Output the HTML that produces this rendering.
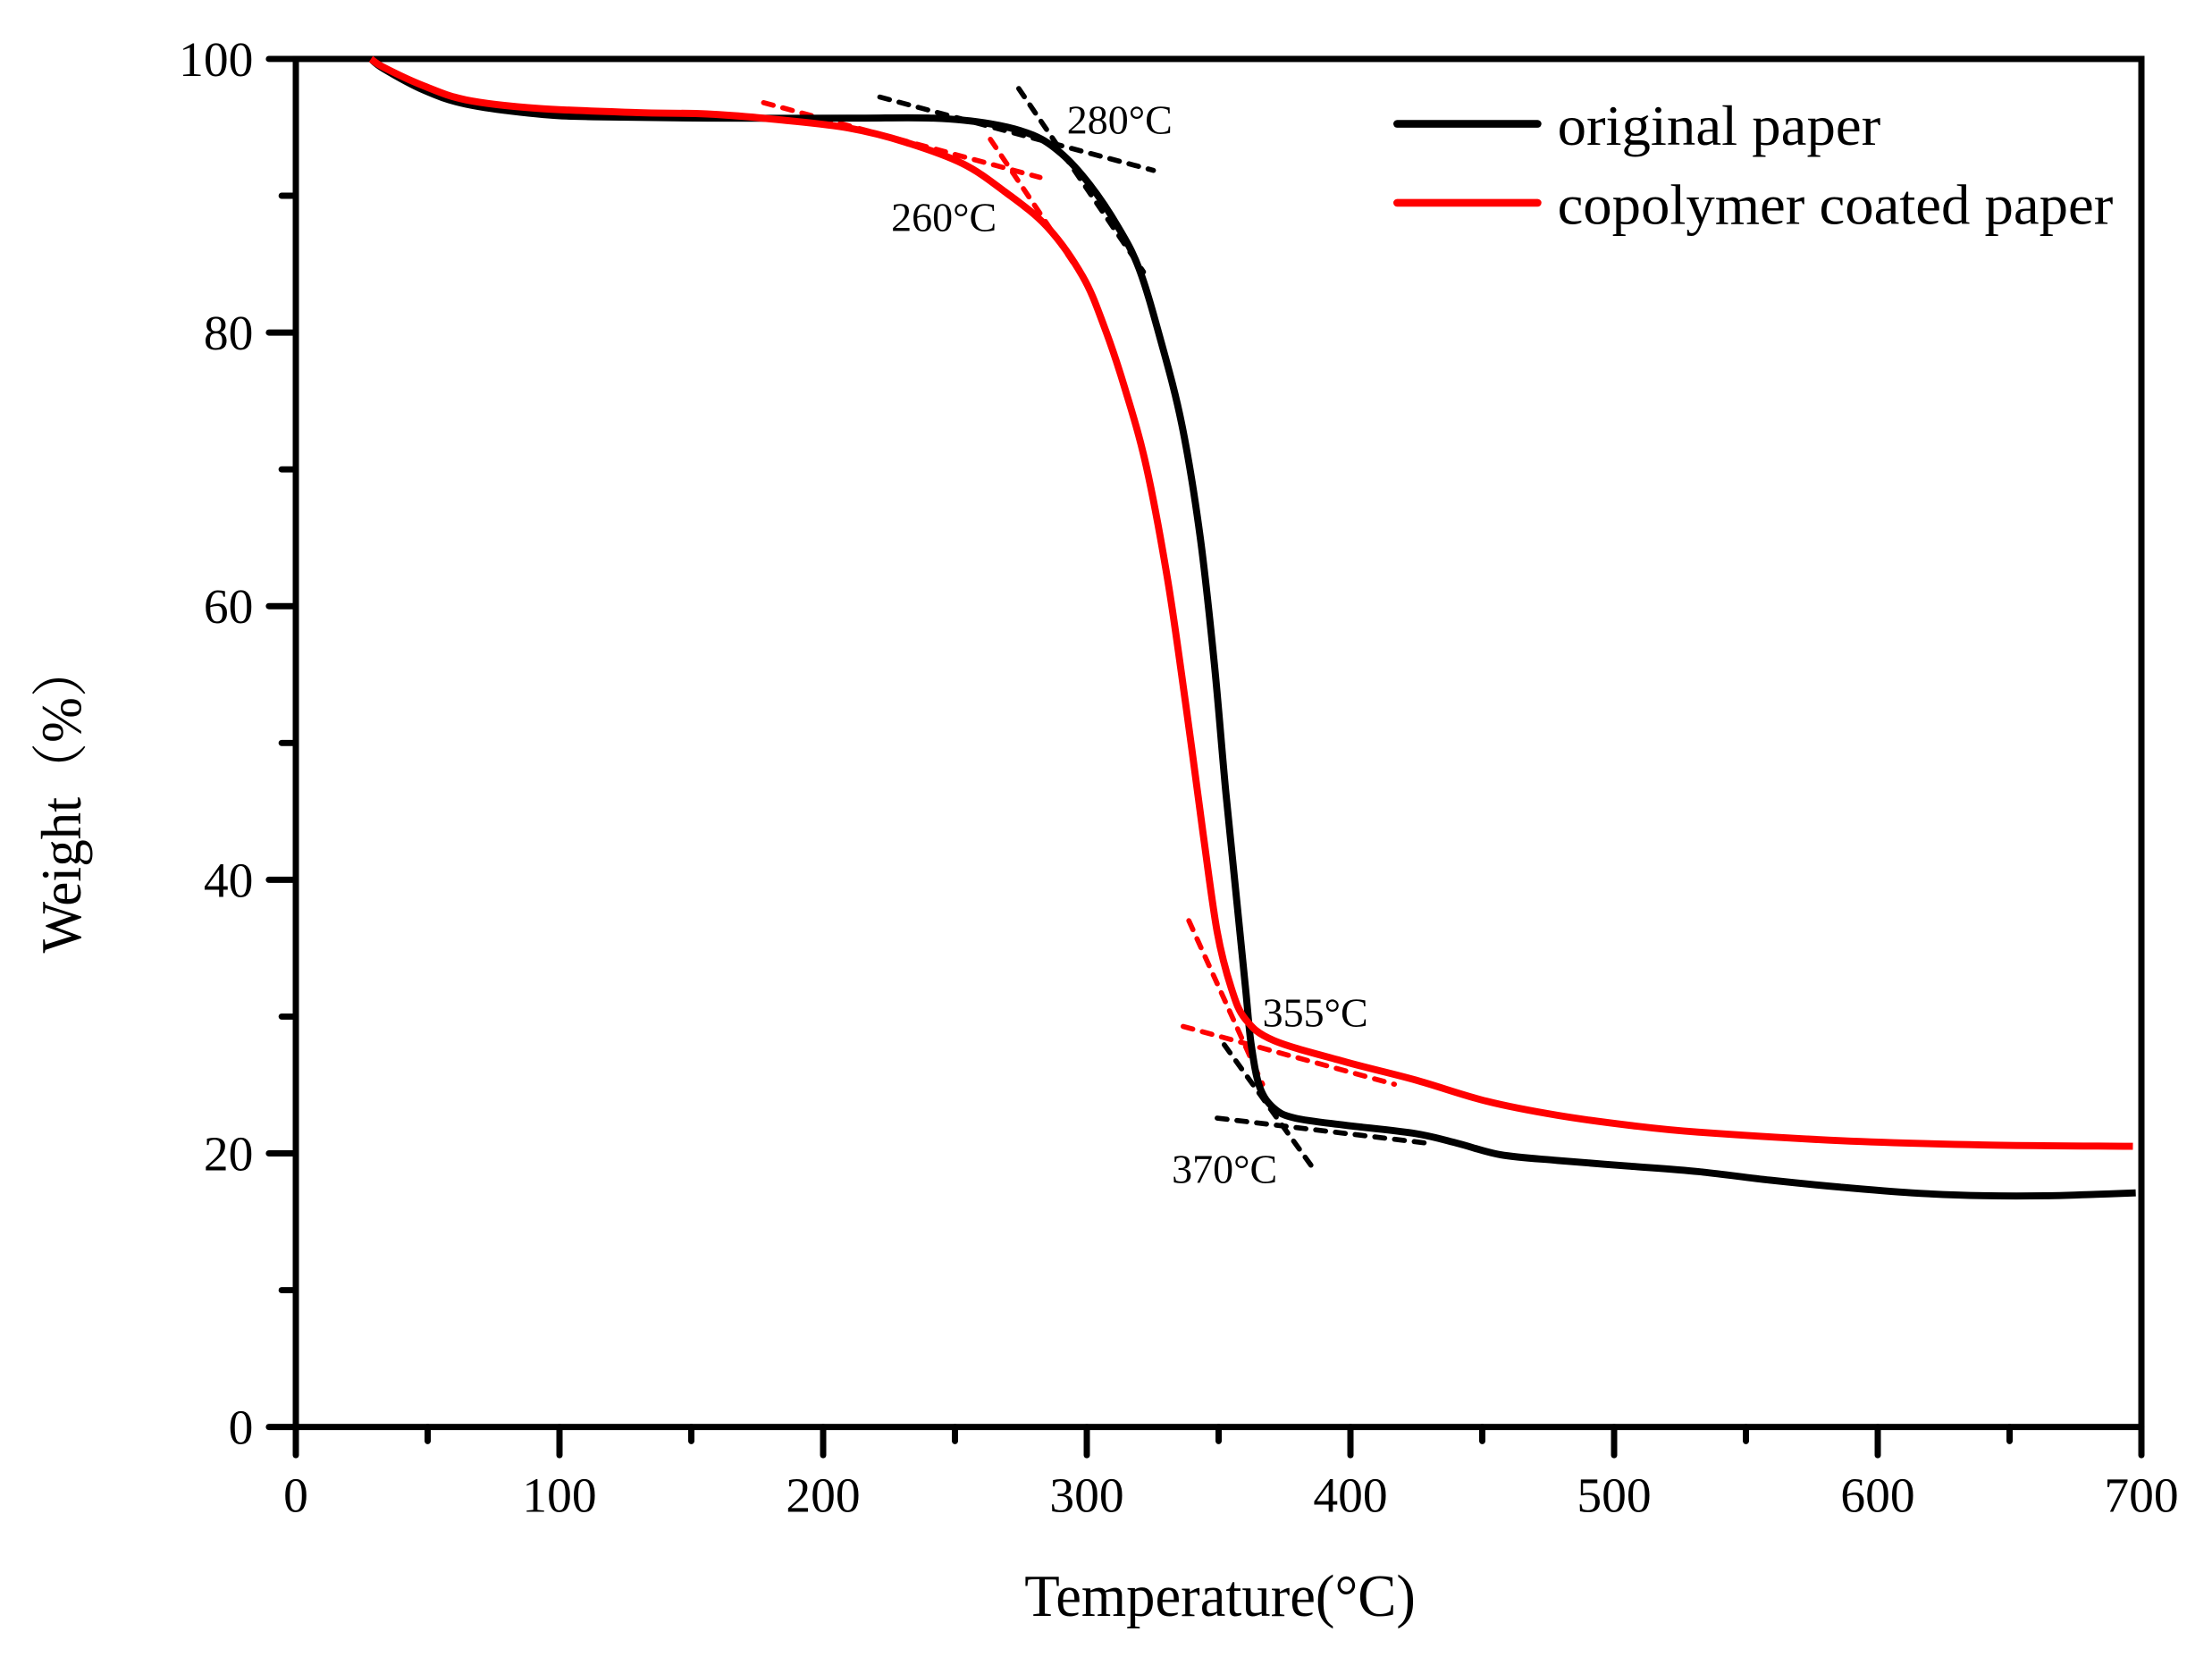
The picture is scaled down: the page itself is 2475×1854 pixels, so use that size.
<!DOCTYPE html>
<html><head><meta charset="utf-8"><style>
html,body{margin:0;padding:0;background:#fff;}
svg{display:block;}
text{font-family:"Liberation Serif","Noto Serif CJK SC",serif;fill:#000;}
</style></head><body>
<svg width="2475" height="1854" viewBox="1.3 -0.8 1560.5 1174.9" preserveAspectRatio="none" xmlns="http://www.w3.org/2000/svg">
<rect x="0" y="-1" width="1562" height="1176" fill="#fff"/>
<rect x="210" y="41" width="1302" height="970" fill="none" stroke="#000" stroke-width="4.4"/>
<g stroke="#000" stroke-width="4.4" stroke-linecap="round">
<line x1="191" y1="41" x2="210" y2="41"/><line x1="191" y1="235" x2="210" y2="235"/><line x1="191" y1="429" x2="210" y2="429"/><line x1="191" y1="623" x2="210" y2="623"/><line x1="191" y1="817" x2="210" y2="817"/><line x1="191" y1="1011" x2="210" y2="1011"/>
<line x1="200" y1="138" x2="210" y2="138"/><line x1="200" y1="332" x2="210" y2="332"/><line x1="200" y1="526" x2="210" y2="526"/><line x1="200" y1="720" x2="210" y2="720"/><line x1="200" y1="914" x2="210" y2="914"/>
<line x1="210" y1="1011" x2="210" y2="1031"/><line x1="396" y1="1011" x2="396" y2="1031"/><line x1="582" y1="1011" x2="582" y2="1031"/><line x1="768" y1="1011" x2="768" y2="1031"/><line x1="954" y1="1011" x2="954" y2="1031"/><line x1="1140" y1="1011" x2="1140" y2="1031"/><line x1="1326" y1="1011" x2="1326" y2="1031"/><line x1="1512" y1="1011" x2="1512" y2="1031"/>
<line x1="303" y1="1011" x2="303" y2="1021"/><line x1="489" y1="1011" x2="489" y2="1021"/><line x1="675" y1="1011" x2="675" y2="1021"/><line x1="861" y1="1011" x2="861" y2="1021"/><line x1="1047" y1="1011" x2="1047" y2="1021"/><line x1="1233" y1="1011" x2="1233" y2="1021"/><line x1="1419" y1="1011" x2="1419" y2="1021"/>
</g>
<g font-size="35" text-anchor="end">
<text x="180" y="53">100</text><text x="180" y="247">80</text><text x="180" y="441">60</text><text x="180" y="635">40</text><text x="180" y="829">20</text><text x="180" y="1023">0</text>
</g>
<g font-size="35" text-anchor="middle">
<text x="210" y="1071">0</text><text x="396" y="1071">100</text><text x="582" y="1071">200</text><text x="768" y="1071">300</text><text x="954" y="1071">400</text><text x="1140" y="1071">500</text><text x="1326" y="1071">600</text><text x="1512" y="1071">700</text>
</g>
<text x="724" y="1145" font-size="42" textLength="276" lengthAdjust="spacingAndGlyphs">Temperature(°C)</text>
<text transform="translate(58,675) rotate(-90)" font-size="40" textLength="220" lengthAdjust="spacingAndGlyphs">Weight（%）</text>
<g fill="none" stroke-width="3.6" stroke-dasharray="7 7" stroke-linecap="round">
<line x1="622" y1="68" x2="815" y2="120" stroke="#000"/>
<line x1="720" y1="62" x2="808" y2="192" stroke="#000"/>
<line x1="540" y1="72" x2="735" y2="125" stroke="#f00"/>
<line x1="700" y1="98" x2="758" y2="185" stroke="#f00"/>
<line x1="840" y1="652" x2="892" y2="768" stroke="#f00"/>
<line x1="836" y1="727" x2="985" y2="768" stroke="#f00"/>
<line x1="865" y1="740" x2="928" y2="828" stroke="#000"/>
<line x1="860" y1="792" x2="1010" y2="810" stroke="#000"/>
</g>
<path id="cb" fill="none" stroke="#000" stroke-width="5" stroke-linejoin="round" d=""/>
<path id="cr" fill="none" stroke="#f00" stroke-width="5" stroke-linejoin="round" d=""/>
<g font-size="29">
<text x="754" y="94">280°C</text>
<text x="630" y="163">260°C</text>
<text x="892" y="727">355°C</text>
<text x="828" y="838">370°C</text>
</g>
<line x1="987" y1="87" x2="1086" y2="87" stroke="#000" stroke-width="5.5" stroke-linecap="round"/>
<line x1="987" y1="143" x2="1086" y2="143" stroke="#f00" stroke-width="5.5" stroke-linecap="round"/>
<text x="1100" y="102" font-size="40" textLength="228" lengthAdjust="spacingAndGlyphs">original paper</text>
<text x="1100" y="158" font-size="40" textLength="392" lengthAdjust="spacingAndGlyphs">copolymer coated paper</text>
</svg>
<script>
function cr(p){var d="M"+p[0][0]+","+p[0][1];for(var i=0;i<p.length-1;i++){var a=p[i-1]||p[i],b=p[i],c=p[i+1],e=p[i+2]||c;
d+=" C"+(b[0]+(c[0]-a[0])/6).toFixed(1)+","+(b[1]+(c[1]-a[1])/6).toFixed(1)+" "+(c[0]-(e[0]-b[0])/6).toFixed(1)+","+(c[1]-(e[1]-b[1])/6).toFixed(1)+" "+c[0]+","+c[1];}return d;}
var B=[[263,41],[272,48],[300,63],[330,73],[380,80],[420,82],[500,83],[600,83],[660,83],[700,87],[730,95],[750,108],[770,130],[790,160],[805,190],[820,240],[835,300],[848,380],[858,470],[866,560],[874,640],[880,700],[884,740],[890,770],[900,785],[915,792],[950,797],[1000,803],[1030,810],[1060,818],[1100,822],[1150,826],[1200,830],[1250,836],[1300,841],[1350,845],[1400,847],[1450,847],[1480,846],[1508,845]];
var R=[[263,41],[272,47],[300,60],[330,70],[380,76],[450,79],[500,80],[550,84],[600,90],[640,100],[680,115],[710,135],[740,160],[765,195],[780,230],[795,275],[810,330],[825,410],[838,500],[850,590],[860,660],[870,700],[880,722],[900,737],[950,752],[1000,765],[1050,780],[1100,790],[1150,797],[1200,802],[1300,808],[1400,811],[1506,812]];
document.getElementById("cb").setAttribute("d",cr(B));
document.getElementById("cr").setAttribute("d",cr(R));
</script>
</body></html>
